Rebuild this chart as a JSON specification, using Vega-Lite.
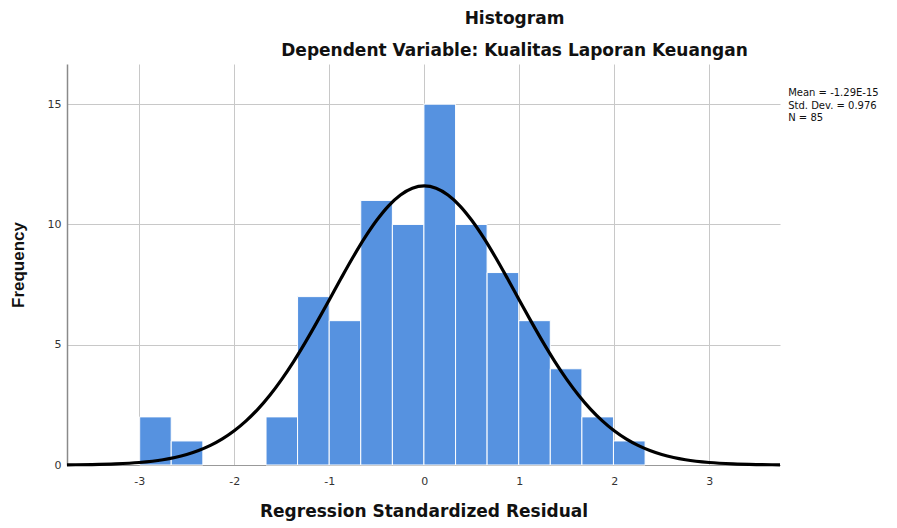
{
  "$schema": "https://vega.github.io/schema/vega-lite/v6.json",
  "width": 713,
  "height": 401,
  "autosize": {"type": "none"},
  "padding": {"left": 67, "top": 64, "right": 117, "bottom": 63},
  "background": "white",
  "title": {
    "text": "Histogram",
    "subtitle": "Dependent Variable: Kualitas Laporan Keuangan",
    "anchor": "middle",
    "dx": 91,
    "offset": 4,
    "font": "DejaVu Sans",
    "fontSize": 17,
    "fontWeight": "bold",
    "color": "#111111",
    "subtitleFont": "DejaVu Sans",
    "subtitleFontSize": 17,
    "subtitleFontWeight": "bold",
    "subtitleColor": "#111111",
    "subtitlePadding": 15
  },
  "config": {
    "view": {"stroke": null},
    "font": "Liberation Sans"
  },
  "layer": [
    {
      "data": {
        "values": [
          {"bin_start": -2.995, "bin_end": -2.663, "count": 2},
          {"bin_start": -2.663, "bin_end": -2.33, "count": 1},
          {"bin_start": -1.665, "bin_end": -1.333, "count": 2},
          {"bin_start": -1.333, "bin_end": -1.0, "count": 7},
          {"bin_start": -1.0, "bin_end": -0.668, "count": 6},
          {"bin_start": -0.668, "bin_end": -0.335, "count": 11},
          {"bin_start": -0.335, "bin_end": -0.003, "count": 10},
          {"bin_start": -0.003, "bin_end": 0.33, "count": 15},
          {"bin_start": 0.33, "bin_end": 0.662, "count": 10},
          {"bin_start": 0.662, "bin_end": 0.995, "count": 8},
          {"bin_start": 0.995, "bin_end": 1.327, "count": 6},
          {"bin_start": 1.327, "bin_end": 1.66, "count": 4},
          {"bin_start": 1.66, "bin_end": 1.992, "count": 2},
          {"bin_start": 1.992, "bin_end": 2.325, "count": 1}
        ]
      },
      "mark": {"type": "rect", "color": "#5692e0", "stroke": "white", "strokeWidth": 1},
      "encoding": {
        "x": {
          "field": "bin_start",
          "type": "quantitative",
          "scale": {"domain": [-3.76, 3.745], "nice": false, "zero": false},
          "axis": {
            "values": [-3, -2, -1, 0, 1, 2, 3],
            "labelExpr": "toString(datum.value)",
            "grid": true,
            "gridColor": "#c8c8c8",
            "gridWidth": 1,
            "ticks": false,
            "domainColor": "#999999",
            "domainWidth": 1,
            "labelFont": "DejaVu Sans",
            "labelFontSize": 11,
            "labelColor": "#333333",
            "labelPadding": 10,
            "title": "Regression Standardized Residual",
            "titleFont": "DejaVu Sans",
            "titleFontSize": 17,
            "titleFontWeight": "bold",
            "titleColor": "#111111",
            "titlePadding": 17
          }
        },
        "x2": {"field": "bin_end"},
        "y": {
          "field": "count",
          "type": "quantitative",
          "scale": {"domain": [0, 16.67], "nice": false},
          "axis": {
            "values": [0, 5, 10, 15],
            "grid": true,
            "gridColor": "#c8c8c8",
            "gridWidth": 1,
            "ticks": false,
            "domainColor": "#8a8a8a",
            "domainWidth": 1.5,
            "labelFont": "DejaVu Sans",
            "labelFontSize": 11,
            "labelColor": "#333333",
            "labelPadding": 6,
            "title": "Frequency",
            "titleFont": "Liberation Sans",
            "titleFontSize": 17,
            "titleFontWeight": "bold",
            "titleColor": "#111111",
            "titlePadding": 20
          }
        },
        "y2": {"datum": 0}
      }
    },
    {
      "data": {
        "values": [
          {"x": -3.76, "f": 0.007},
          {"x": -3.5, "f": 0.0187},
          {"x": -3.25, "f": 0.0454},
          {"x": -3.0, "f": 0.103},
          {"x": -2.75, "f": 0.219},
          {"x": -2.625, "f": 0.312},
          {"x": -2.5, "f": 0.436},
          {"x": -2.375, "f": 0.601},
          {"x": -2.25, "f": 0.814},
          {"x": -2.125, "f": 1.084},
          {"x": -2.0, "f": 1.421},
          {"x": -1.875, "f": 1.833},
          {"x": -1.75, "f": 2.324},
          {"x": -1.625, "f": 2.901},
          {"x": -1.5, "f": 3.561},
          {"x": -1.375, "f": 4.3},
          {"x": -1.25, "f": 5.108},
          {"x": -1.125, "f": 5.97},
          {"x": -1.0, "f": 6.863},
          {"x": -0.875, "f": 7.761},
          {"x": -0.75, "f": 8.634},
          {"x": -0.625, "f": 9.45},
          {"x": -0.5, "f": 10.173},
          {"x": -0.375, "f": 10.775},
          {"x": -0.25, "f": 11.225},
          {"x": -0.125, "f": 11.505},
          {"x": 0.0, "f": 11.6},
          {"x": 0.125, "f": 11.505},
          {"x": 0.25, "f": 11.225},
          {"x": 0.375, "f": 10.775},
          {"x": 0.5, "f": 10.173},
          {"x": 0.625, "f": 9.45},
          {"x": 0.75, "f": 8.634},
          {"x": 0.875, "f": 7.761},
          {"x": 1.0, "f": 6.863},
          {"x": 1.125, "f": 5.97},
          {"x": 1.25, "f": 5.108},
          {"x": 1.375, "f": 4.3},
          {"x": 1.5, "f": 3.561},
          {"x": 1.625, "f": 2.901},
          {"x": 1.75, "f": 2.324},
          {"x": 1.875, "f": 1.833},
          {"x": 2.0, "f": 1.421},
          {"x": 2.125, "f": 1.084},
          {"x": 2.25, "f": 0.814},
          {"x": 2.375, "f": 0.601},
          {"x": 2.5, "f": 0.436},
          {"x": 2.625, "f": 0.312},
          {"x": 2.75, "f": 0.219},
          {"x": 3.0, "f": 0.103},
          {"x": 3.25, "f": 0.0454},
          {"x": 3.5, "f": 0.0187},
          {"x": 3.745, "f": 0.007}
        ]
      },
      "mark": {"type": "line", "color": "black", "strokeWidth": 3.2, "interpolate": "monotone"},
      "encoding": {
        "x": {"field": "x", "type": "quantitative"},
        "y": {"field": "f", "type": "quantitative"}
      }
    },
    {
      "data": {
        "values": [
          {"sx": 3.831, "sy": 15.32, "label": "Mean = -1.29E-15"},
          {"sx": 3.831, "sy": 14.82, "label": "Std. Dev. = 0.976"},
          {"sx": 3.831, "sy": 14.32, "label": "N = 85"}
        ]
      },
      "mark": {"type": "text", "align": "left", "baseline": "alphabetic", "fontSize": 10, "color": "#111111", "font": "DejaVu Sans"},
      "encoding": {
        "x": {"field": "sx", "type": "quantitative"},
        "y": {"field": "sy", "type": "quantitative"},
        "text": {"field": "label"}
      }
    }
  ]
}
